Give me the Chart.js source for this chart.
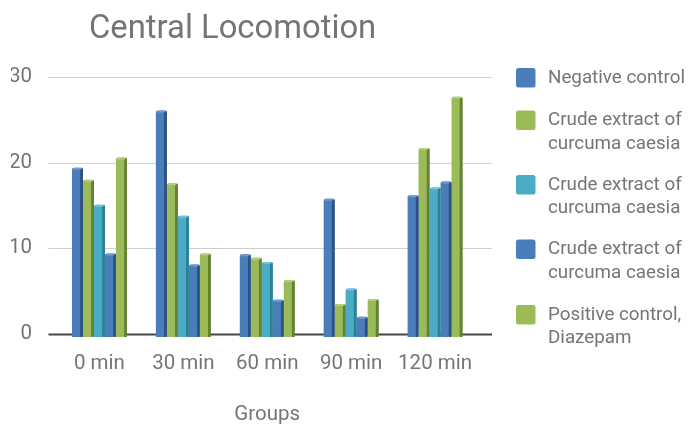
<!DOCTYPE html>
<html>
<head>
<meta charset="utf-8">
<title>Central Locomotion</title>
<script src="https://cdn.jsdelivr.net/npm/chart.js@4/dist/chart.umd.min.js"></script>
<style>
  html, body { margin: 0; padding: 0; background: #fff; }
  #wrap { width: 696px; height: 425px; position: relative; }
</style>
</head>
<body>
<div id="wrap"><canvas id="chart" width="696" height="425"></canvas></div>
<script>
// Time points and measured central locomotion per group
const categories = ['0 min', '30 min', '60 min', '90 min', '120 min'];
const negativeControl = [19.4, 26.1, 9.3, 15.8, 16.2];
const crudeExtractA   = [18.0, 17.6, 8.9, 3.5, 21.7];
const crudeExtractB   = [15.1, 13.8, 8.4, 5.3, 17.1];
const crudeExtractC   = [9.4, 8.1, 4.0, 2.0, 17.8];
const positiveControl = [20.6, 9.4, 6.3, 4.1, 27.7];

const seriesLabels = [
  ['Negative control'],
  ['Crude extract of', 'curcuma caesia'],
  ['Crude extract of', 'curcuma caesia'],
  ['Crude extract of', 'curcuma caesia'],
  ['Positive control,', 'Diazepam']
];
const yTicks = [0, 10, 20, 30];

const chartTitle = 'Central Locomotion';
const xTitle = 'Groups';

const TEXT = '#757575';
const FONT = 'Roboto';
const faceColors = ['#4A7EBB', '#9BBB59', '#4BACC6', '#4A7EBB', '#9BBB59'];
const sideColors = ['#2C5283', '#657F34', '#2B7F96', '#2C5283', '#657F34'];
const capColors  = ['#6F9AD0', '#B4CF7C', '#74C3D8', '#6F9AD0', '#B4CF7C'];

const seriesValues = [negativeControl, crudeExtractA, crudeExtractB, crudeExtractC, positiveControl];

// Horizontal guide lines, drawn a little wider than the category band
const gridPlugin = {
  id: 'gridLines',
  beforeDatasetsDraw(chart) {
    const { ctx, chartArea, scales } = chart;
    const y = scales.y;
    ctx.save();
    yTicks.forEach(v => {
      const py = Math.round(y.getPixelForValue(v)) + 0.5;
      ctx.beginPath();
      ctx.moveTo(chartArea.left - 9, py);
      ctx.lineTo(chartArea.right + 15, py);
      if (v === 0) { ctx.strokeStyle = '#444'; ctx.lineWidth = 2; }
      else { ctx.strokeStyle = '#cfcfcf'; ctx.lineWidth = 1.2; }
      ctx.stroke();
    });
    ctx.restore();
  }
};

// Side face, top cap and bottom lip give each bar a shallow 3D look
const bevelPlugin = {
  id: 'bevel',
  afterDatasetsDraw(chart) {
    const { ctx } = chart;
    ctx.save();
    chart.data.datasets.forEach((ds, i) => {
      const meta = chart.getDatasetMeta(i);
      meta.data.forEach(bar => {
        const { x, y, base, width } = bar.getProps(['x', 'y', 'base', 'width'], true);
        const left = x - width / 2, right = x + width / 2;
        const d = 2.8;
        // bottom lip
        ctx.fillStyle = faceColors[i];
        ctx.fillRect(left, base, width - d, 3);
        // side face
        ctx.fillStyle = sideColors[i];
        ctx.beginPath();
        ctx.moveTo(right - d, y + 2);
        ctx.lineTo(right, y + 0.5);
        ctx.lineTo(right, base + 3);
        ctx.lineTo(right - d, base + 3);
        ctx.closePath();
        ctx.fill();
        // top cap
        ctx.fillStyle = capColors[i];
        ctx.beginPath();
        ctx.moveTo(left + 0.5, y + 2);
        ctx.lineTo(left + d, y);
        ctx.lineTo(right - 0.5, y);
        ctx.lineTo(right - d, y + 2);
        ctx.closePath();
        ctx.fill();
      });
    });
    ctx.restore();
  }
};

// Chart heading and the right-hand legend with wrapped labels
const textPlugin = {
  id: 'texts',
  afterDraw(chart) {
    const { ctx } = chart;
    ctx.save();
    ctx.fillStyle = TEXT;
    ctx.textBaseline = 'middle';
    ctx.textAlign = 'left';
    ctx.font = `32.8px ${FONT}`;
    ctx.fillText(chartTitle, 89, 30);

    const boxX = 516, textX = 548;
    const firstLineY = [78, 120.5, 185, 249.5, 315];
    ctx.font = `18.8px ${FONT}`;
    seriesLabels.forEach((lines, i) => {
      const cy = firstLineY[i];
      ctx.fillStyle = faceColors[i];
      ctx.beginPath();
      ctx.roundRect(boxX, cy - 10, 19.5, 19.5, 2.5);
      ctx.fill();
      ctx.fillStyle = TEXT;
      lines.forEach((line, k) => ctx.fillText(line, textX, cy + k * 23.8));
    });
    ctx.restore();
  }
};

const datasets = seriesValues.map((vals, i) => ({
  label: seriesLabels[i].join(' '),
  data: vals,
  backgroundColor: faceColors[i],
  borderWidth: 0,
  borderRadius: { topLeft: 2, topRight: 2, bottomLeft: 0, bottomRight: 0 },
  borderSkipped: 'bottom',
  barPercentage: 1.0,
  categoryPercentage: 0.655
}));

new Chart(document.getElementById('chart'), {
  type: 'bar',
  data: { labels: categories, datasets },
  options: {
    responsive: false,
    animation: false,
    devicePixelRatio: 1,
    layout: { padding: { top: 77, left: 11, right: 219, bottom: 0 } },
    plugins: {
      legend: { display: false },
      title: { display: false },
      tooltip: { enabled: false }
    },
    scales: {
      x: {
        grid: { display: false, drawTicks: false },
        border: { display: false },
        ticks: { color: TEXT, font: { family: FONT, size: 20.5 }, padding: 18, maxRotation: 0 },
        title: {
          display: true, text: xTitle, color: TEXT,
          font: { family: FONT, size: 20.5 }, padding: { top: 0, bottom: -2.5 }
        },
        afterFit(scale) { scale.height = 91; }
      },
      y: {
        min: 0, max: 30,
        afterBuildTicks(scale) { scale.ticks = yTicks.map(v => ({ value: v })); },
        grid: { display: false, drawTicks: false },
        border: { display: false },
        ticks: { color: TEXT, font: { family: FONT, size: 20.5 }, padding: 25.5 },
        afterFit(scale) { scale.width = 46.5; }
      }
    }
  },
  plugins: [gridPlugin, bevelPlugin, textPlugin]
});
</script>
</body>
</html>
